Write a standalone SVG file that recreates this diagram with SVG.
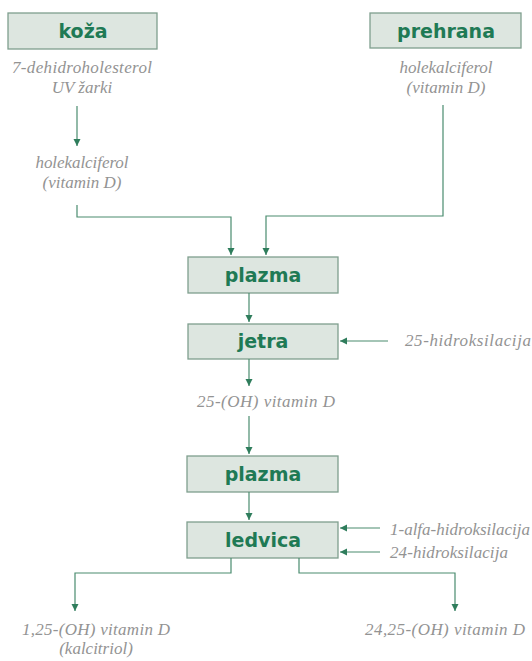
<svg xmlns="http://www.w3.org/2000/svg" width="532" height="661" viewBox="0 0 532 661">
<style>
.box{fill:#dde6e0;stroke:#7f9f8e;stroke-width:1.3}
.lbl{font-family:"DejaVu Sans","Liberation Sans",Arial,sans-serif;font-weight:bold;font-size:19px;fill:#1f7a55;text-anchor:middle}
.it{font-family:"Liberation Serif","Times New Roman",serif;font-style:italic;font-size:17px;fill:#939393}
.c{text-anchor:middle}
.ln{fill:none;stroke:#4a8c6f;stroke-width:1.2}
</style>
<defs>
<marker id="ah" markerUnits="userSpaceOnUse" markerWidth="8" markerHeight="8" refX="7" refY="4" orient="auto">
<path d="M0,0.5 L7,4 L0,7.5 Z" fill="#2f7d5c"/>
</marker>
</defs>
<rect width="532" height="661" fill="#ffffff"/>
<g id="koza"><rect class="box" x="8" y="13" width="149" height="36"/><text class="lbl" x="83" y="38">koža</text></g>
<g id="prehrana"><rect class="box" x="370" y="13" width="151" height="35"/><text class="lbl" x="446" y="38">prehrana</text></g>
<g id="plazma1"><rect class="box" x="188" y="257" width="150" height="36"/><text class="lbl" x="263" y="282">plazma</text></g>
<g id="jetra"><rect class="box" x="188" y="324" width="150" height="35"/><text class="lbl" x="263" y="348">jetra</text></g>
<g id="plazma2"><rect class="box" x="187" y="456" width="151" height="36"/><text class="lbl" x="263" y="481">plazma</text></g>
<g id="ledvica"><rect class="box" x="187" y="522" width="151" height="36"/><text class="lbl" x="263" y="547">ledvica</text></g>
<g id="texts">
<text class="it c" x="82" y="73" textLength="140" lengthAdjust="spacing">7-dehidroholesterol</text>
<text class="it c" x="82" y="93">UV žarki</text>
<text class="it c" x="82" y="168" textLength="93" lengthAdjust="spacing">holekalciferol</text>
<text class="it c" x="82" y="188">(vitamin D)</text>
<text class="it c" x="446" y="73" textLength="93" lengthAdjust="spacing">holekalciferol</text>
<text class="it c" x="446" y="93">(vitamin D)</text>
<text class="it" x="405" y="346" textLength="126" lengthAdjust="spacing">25-hidroksilacija</text>
<text class="it c" x="266" y="407" textLength="138" lengthAdjust="spacing">25-(OH) vitamin D</text>
<text class="it" x="390" y="535" textLength="140" lengthAdjust="spacing">1-alfa-hidroksilacija</text>
<text class="it" x="390" y="558" textLength="118" lengthAdjust="spacing">24-hidroksilacija</text>
<text class="it c" x="96" y="635" textLength="148" lengthAdjust="spacing">1,25-(OH) vitamin D</text>
<text class="it c" x="96" y="654">(kalcitriol)</text>
<text class="it c" x="445" y="635" textLength="160" lengthAdjust="spacing">24,25-(OH) vitamin D</text>
</g>
<g id="connectors">
<path class="ln" d="M77,106 V146" marker-end="url(#ah)"/>
<path class="ln" d="M77,205 V217 H231 V255" marker-end="url(#ah)"/>
<path class="ln" d="M443,105 V216 H266 V255" marker-end="url(#ah)"/>
<path class="ln" d="M249,293 V322" marker-end="url(#ah)"/>
<path class="ln" d="M249,359 V386" marker-end="url(#ah)"/>
<path class="ln" d="M249,416 V454" marker-end="url(#ah)"/>
<path class="ln" d="M249,492 V520" marker-end="url(#ah)"/>
<path class="ln" d="M388,341 H340" marker-end="url(#ah)"/>
<path class="ln" d="M380,528 H340" marker-end="url(#ah)"/>
<path class="ln" d="M380,552 H340" marker-end="url(#ah)"/>
<path class="ln" d="M231,558 V573 H75 V611" marker-end="url(#ah)"/>
<path class="ln" d="M299,558 V573 H455 V611" marker-end="url(#ah)"/>
</g>
</svg>
